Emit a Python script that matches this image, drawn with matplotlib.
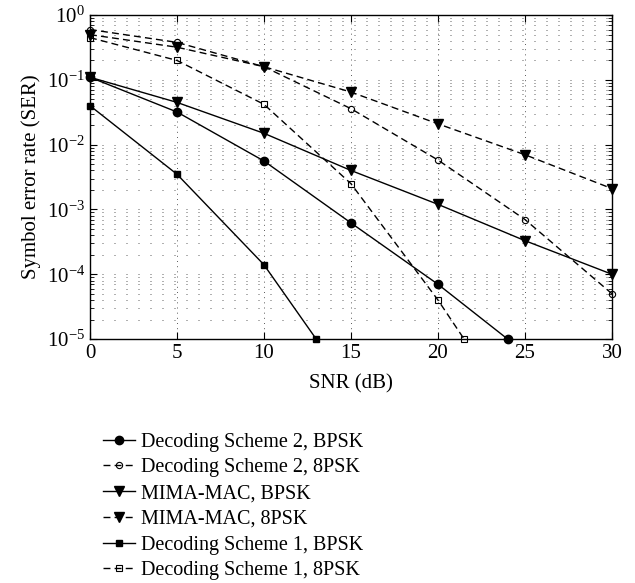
import numpy as np
import matplotlib
matplotlib.use("Agg")
import matplotlib.pyplot as plt
from matplotlib.ticker import LogLocator, NullFormatter

plt.rcParams['font.family'] = ['Liberation Serif', 'DejaVu Serif']
plt.rcParams['mathtext.fontset'] = 'custom'
plt.rcParams['mathtext.rm'] = 'Liberation Serif'
plt.rcParams['mathtext.it'] = 'Liberation Serif:italic'

# SNR points and SER values
snr_ds2_bpsk = [0, 5, 10, 15, 20, 24]
ser_ds2_bpsk = [0.11, 0.032, 0.0056, 0.00062, 0.00007, 1e-5]

snr_ds2_8psk = [0, 5, 10, 15, 20, 25, 30]
ser_ds2_8psk = [0.6, 0.38, 0.16, 0.036, 0.0058, 0.0007, 0.00005]

snr_mac_bpsk = [0, 5, 10, 15, 20, 25, 30]
ser_mac_bpsk = [0.11, 0.045, 0.015, 0.004, 0.0012, 0.00033, 0.0001]

snr_mac_8psk = [0, 5, 10, 15, 20, 25, 30]
ser_mac_8psk = [0.5, 0.32, 0.16, 0.065, 0.021, 0.007, 0.0021]

snr_ds1_bpsk = [0, 5, 10, 13]
ser_ds1_bpsk = [0.04, 0.0035, 0.00014, 1e-5]

snr_ds1_8psk = [0, 5, 10, 15, 20, 21.5]
ser_ds1_8psk = [0.45, 0.2, 0.042, 0.0025, 0.00004, 1e-5]

fig = plt.figure(figsize=(6.35, 5.83), dpi=100)
ax = fig.add_axes([0.1417, 0.4185, 0.822, 0.5555])

kw = dict(color='black', linewidth=1.0, clip_on=False)
dash = (5, 3)
ax.plot(snr_ds2_bpsk, ser_ds2_bpsk, '-', marker='o', markersize=6,
        label='Decoding Scheme 2, BPSK', **kw)
ax.plot(snr_ds2_8psk, ser_ds2_8psk, '--', marker='o', markersize=4.5,
        markerfacecolor='none', markeredgewidth=0.8, dashes=dash,
        label='Decoding Scheme 2, 8PSK', **kw)
ax.plot(snr_mac_bpsk, ser_mac_bpsk, '-', marker='v', markersize=6.5,
        label='MIMA-MAC, BPSK', **kw)
ax.plot(snr_mac_8psk, ser_mac_8psk, '--', marker='v', markersize=6.5,
        dashes=dash, label='MIMA-MAC, 8PSK', **kw)
ax.plot(snr_ds1_bpsk, ser_ds1_bpsk, '-', marker='s', markersize=5,
        label='Decoding Scheme 1, BPSK', **kw)
ax.plot(snr_ds1_8psk, ser_ds1_8psk, '--', marker='s', markersize=4,
        markerfacecolor='none', markeredgewidth=0.8, dashes=dash,
        label='Decoding Scheme 1, 8PSK', **kw)

ax.set_yscale('log')
ax.set_xlim(0, 30)
ax.set_ylim(1e-5, 1)
ax.set_xticks([0, 5, 10, 15, 20, 25, 30])
ax.yaxis.set_major_locator(LogLocator(base=10, numticks=10))
ax.yaxis.set_minor_locator(LogLocator(base=10, subs=np.arange(2, 10), numticks=20))
ax.yaxis.set_minor_formatter(NullFormatter())

# dotted grid: sparse dots along horizontals, denser along verticals
ax.grid(True, which='both', axis='y', linestyle=(0, (1.2, 13.2)),
        color='#444444', linewidth=0.6)
ax.grid(True, which='major', axis='x', linestyle=(0, (1.2, 5)),
        color='#444444', linewidth=0.6)

ax.tick_params(which='both', direction='in', top=True, right=True, labelsize=15)
ax.tick_params(which='major', length=5)
ax.tick_params(which='minor', length=3)
for s in ax.spines.values():
    s.set_linewidth(1.0)

ax.set_xlabel('SNR (dB)', fontsize=15, labelpad=8)
ax.set_ylabel('Symbol error rate (SER)', fontsize=15, labelpad=4)

ax.legend(loc='upper left', bbox_to_anchor=(0.025, -0.289), frameon=False,
          fontsize=14.5, handlelength=1.6, handletextpad=0.3,
          labelspacing=0.33, borderaxespad=0, borderpad=0)

fig.savefig('out.png', dpi=100)
